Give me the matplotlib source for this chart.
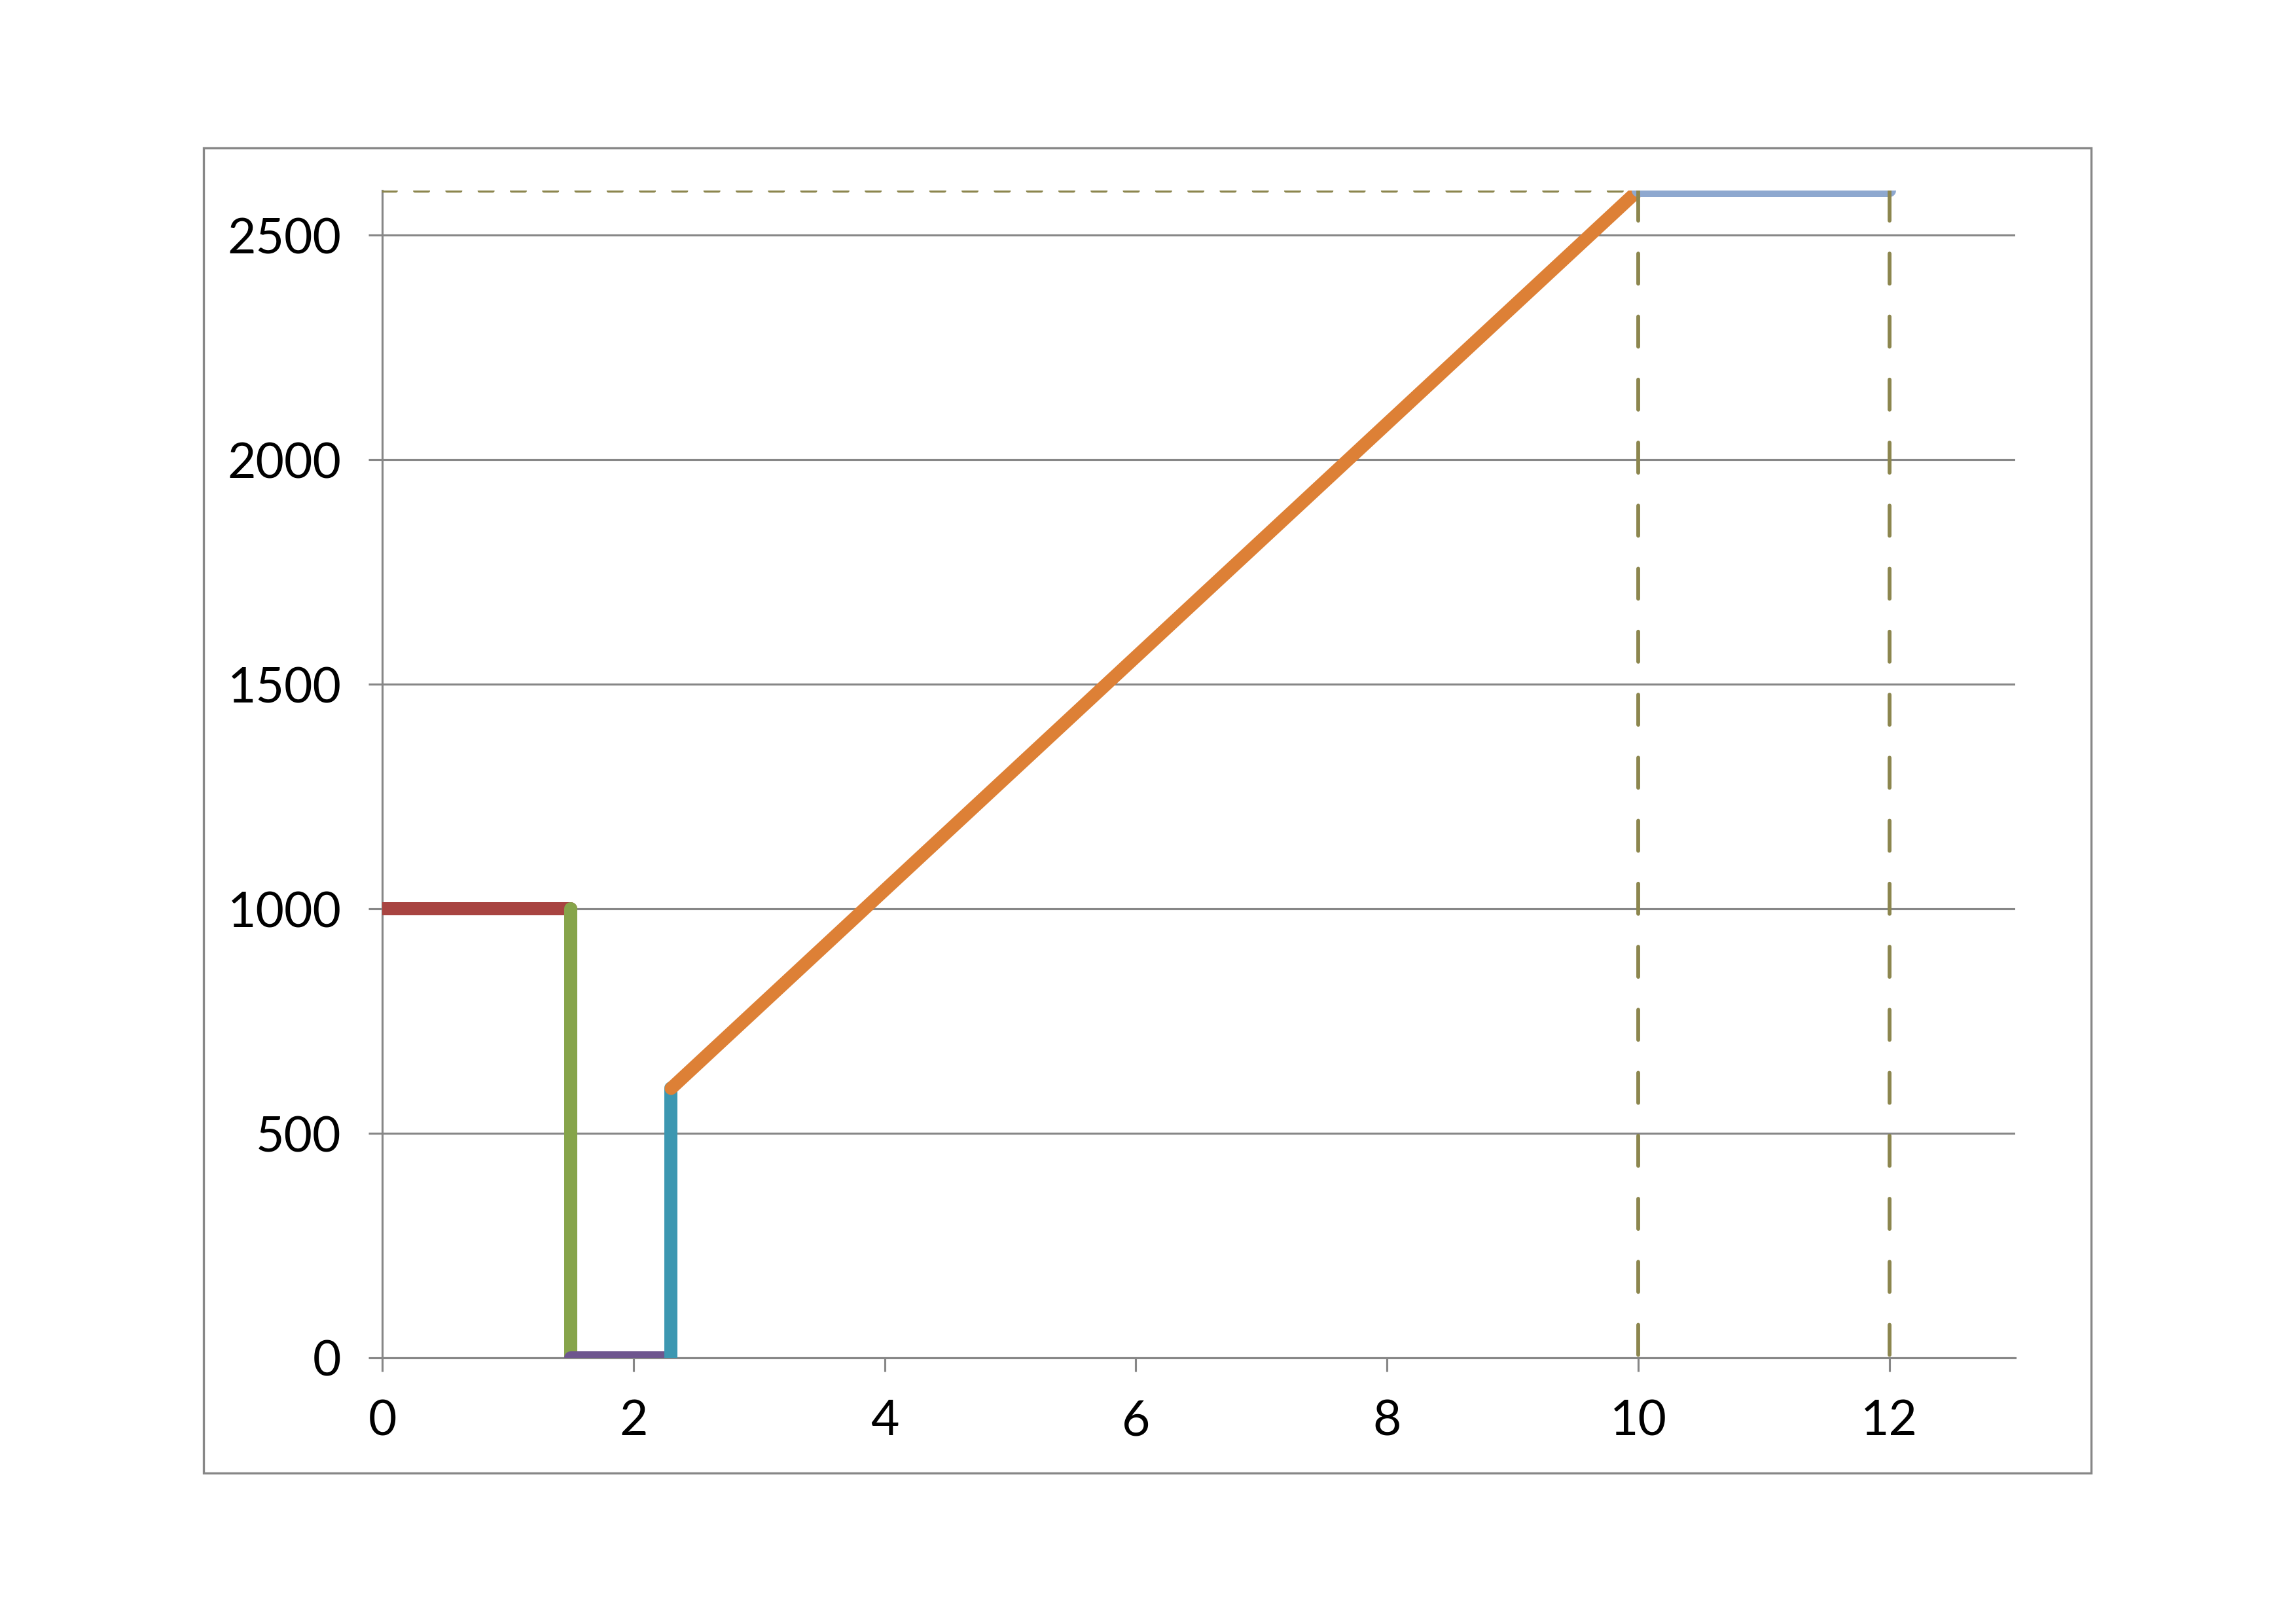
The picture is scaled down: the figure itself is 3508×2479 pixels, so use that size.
import matplotlib
matplotlib.use('Agg')
import matplotlib.pyplot as plt
from matplotlib.patches import Rectangle

plt.rcParams['font.family'] = ['Lato', 'DejaVu Sans']

# segments of the path (x, y)
red_x = [0, 1.5]
red_y = [1000, 1000]
green_x = [1.5, 1.5]
green_y = [1000, 0]
purple_x = [1.5, 2.3]
purple_y = [0, 0]
teal_x = [2.3, 2.3]
teal_y = [0, 600]
orange_x = [2.3, 10]
orange_y = [600, 2600]
blue_x = [10, 12]
blue_y = [2600, 2600]

# dashed guide lines (drawn from the top down)
guide_h_x = [0, 10]
guide_h_y = [2600, 2600]
guide_v1_x = [10, 10]
guide_v1_y = [2600, 0]
guide_v2_x = [12, 12]
guide_v2_y = [2600, 0]

x_ticks = [0, 2, 4, 6, 8, 10, 12]
y_ticks = [0, 500, 1000, 1500, 2000, 2500]

grey = '#878787'
olive = '#8C864E'

fig = plt.figure(figsize=(3508 / 300, 2479 / 300), dpi=300)
ax = fig.add_axes([0.1665, 0.1634, 0.8776 - 0.1665, 0.8827 - 0.1634])

# outer chart-area border
fig.patches.append(Rectangle((0.0886, 0.0922), 0.9107 - 0.0886, 0.9089 - 0.0922,
                             transform=fig.transFigure, fill=False,
                             edgecolor=grey, linewidth=0.8))

lw = 4.8
for xs, ys, c in [(red_x, red_y, '#A84441'),
                  (green_x, green_y, '#86A44A'),
                  (purple_x, purple_y, '#6E568E'),
                  (teal_x, teal_y, '#3C97B1'),
                  (orange_x, orange_y, '#DD8036'),
                  (blue_x, blue_y, '#8EA8CF')]:
    ax.plot(xs, ys, color=c, linewidth=lw, solid_capstyle='round', zorder=3)

ax.plot(guide_h_x, guide_h_y, color=olive, linewidth=1.3,
        linestyle=(0, (3.8, 5.3)), dash_capstyle='round', zorder=4)
for xs, ys in [(guide_v1_x, guide_v1_y), (guide_v2_x, guide_v2_y)]:
    ax.plot(xs, ys, color=olive, linewidth=1.4,
            linestyle=(0, (7.9, 8.6)), dash_capstyle='round', zorder=4)

ax.set_xlim(0, 13)
ax.set_ylim(0, 2600)
ax.set_xticks(x_ticks)
ax.set_yticks(y_ticks)
ax.yaxis.grid(True, color=grey, linewidth=0.75)
ax.set_axisbelow(True)

for s in ['top', 'right']:
    ax.spines[s].set_visible(False)
for s in ['left', 'bottom']:
    ax.spines[s].set_color(grey)
    ax.spines[s].set_linewidth(0.75)

ax.tick_params(axis='both', direction='out', length=5, width=0.75, color=grey,
               labelsize=18, labelcolor='black')
ax.tick_params(axis='y', pad=10)
ax.tick_params(axis='x', pad=10)

fig.savefig('out.png', dpi=300)
